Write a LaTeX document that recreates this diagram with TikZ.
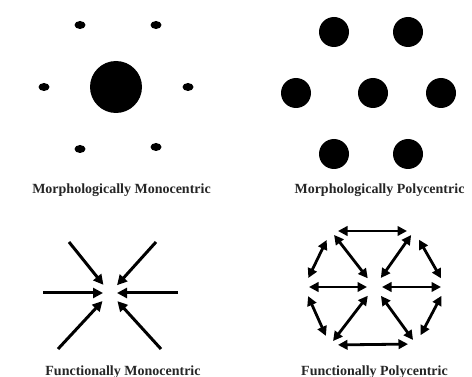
\documentclass[tikz,border=0pt]{standalone}
\usepackage{fontspec}
\setmainfont{Liberation Serif}
\usetikzlibrary{arrows.meta,shapes.geometric}
\begin{document}
\begin{tikzpicture}[x=1pt,y=-1pt,
  smalldot/.style={ellipse,fill=black,draw=none,inner sep=0pt,minimum width=11pt,minimum height=8pt},
  bigdot/.style={circle,fill=black,draw=none,inner sep=0pt,minimum size=52pt},
  polydot/.style={circle,fill=black,draw=none,inner sep=0pt,minimum size=30pt},
  lbl/.style={anchor=base,text=black!85,font=\fontsize{14}{16}\selectfont\bfseries,inner sep=0pt},
  arr/.style={line width=3pt,-{Triangle[length=10pt,width=10pt]}},
  darr/.style={line width=2.8pt,{Triangle[length=9.5pt,width=9.5pt]}-{Triangle[length=9.5pt,width=9.5pt]}}
]
\useasboundingbox (0,0) rectangle (472,377);
% Morphologically monocentric
\node[bigdot] (mc) at (116,87) {};
\node[smalldot] (m1) at (80,25) {};
\node[smalldot] (m2) at (156,25) {};
\node[smalldot] (m3) at (44,87) {};
\node[smalldot] (m4) at (188,87) {};
\node[smalldot] (m5) at (80,149) {};
\node[smalldot] (m6) at (156,147) {};
\node[lbl] (t1) at (121.5,194) {Morphologically Monocentric};
% Morphologically polycentric
\node[polydot] (p1) at (334,32) {};
\node[polydot] (p2) at (408,32) {};
\node[polydot] (p3) at (296,93) {};
\node[polydot] (p4) at (373,93) {};
\node[polydot] (p5) at (441,93) {};
\node[polydot] (p6) at (334,154) {};
\node[polydot] (p7) at (408,154) {};
\node[lbl] (t2) at (379.5,194) {Morphologically Polycentric};
% Functionally monocentric
\coordinate (fc) at (110,293);
\coordinate (fL) at (43,293);
\coordinate (fR) at (178,293);
\coordinate (fUL) at (69,242);
\coordinate (fUR) at (156,242);
\coordinate (fLL) at (58,349);
\coordinate (fLR) at (161,349);
\draw[arr,shorten >=7pt] (fL) -- (fc);
\draw[arr,shorten >=7pt] (fR) -- (fc);
\draw[arr,shorten >=10.5pt] (fUL) -- (fc);
\draw[arr,shorten >=10.5pt] (fUR) -- (fc);
\draw[arr,shorten >=11pt] (fLL) -- (fc);
\draw[arr,shorten >=11pt] (fLR) -- (fc);
\node[lbl] (t3) at (123,375) {Functionally Monocentric};
% Functionally polycentric
\coordinate (C) at (374.5,287);
\coordinate (L) at (304,287);
\coordinate (R) at (446,287);
\coordinate (TL) at (331,231);
\coordinate (TR) at (414,231);
\coordinate (BL) at (330,345);
\coordinate (BR) at (416,344);
\draw[darr,shorten <=5pt,shorten >=7.5pt] (L) -- (C);
\draw[darr,shorten <=5pt,shorten >=7.5pt] (R) -- (C);
\draw[darr,shorten <=5pt,shorten >=11pt] (TL) -- (C);
\draw[darr,shorten <=5pt,shorten >=11pt] (TR) -- (C);
\draw[darr,shorten <=5pt,shorten >=11pt] (BL) -- (C);
\draw[darr,shorten <=5pt,shorten >=11pt] (BR) -- (C);
\draw[darr,shorten <=7pt,shorten >=7pt] (TL) -- (TR);
\draw[darr,shorten <=8pt,shorten >=8pt] (BL) -- (BR);
\draw[darr,shorten <=10pt,shorten >=10pt] (L) -- (TL);
\draw[darr,shorten <=10pt,shorten >=10pt] (L) -- (BL);
\draw[darr,shorten <=10pt,shorten >=10pt] (R) -- (TR);
\draw[darr,shorten <=10pt,shorten >=10pt] (R) -- (BR);
\node[lbl] (t4) at (374.5,375) {Functionally Polycentric};
\end{tikzpicture}
\end{document}
